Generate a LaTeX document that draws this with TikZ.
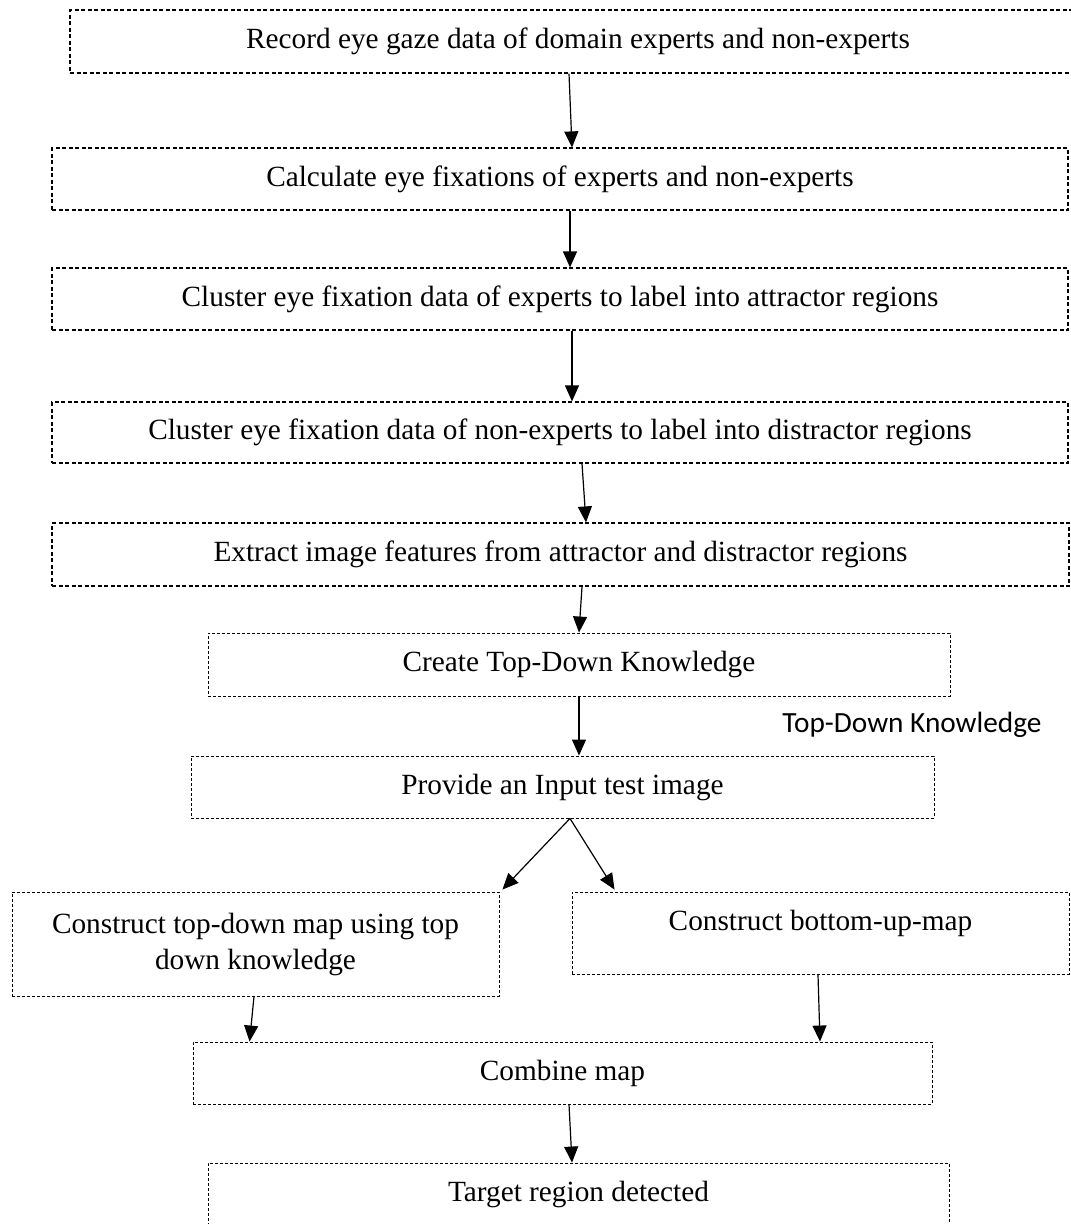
\documentclass[tikz,border=0pt]{standalone}
\usepackage{fontspec}
\setmainfont{Liberation Serif}
\newfontfamily\labelfont{Carlito}
\usetikzlibrary{arrows.meta}

\begin{document}
\begin{tikzpicture}[x=1pt, y=-1pt,
    stepbox/.style={draw, line width=1.2pt, dash pattern=on 4pt off 2.5pt, minimum width=1016pt, minimum height=62pt, inner sep=0pt, font=\fontsize{29.3}{36}\selectfont},
    smallbox/.style={stepbox, line width=0.9pt, dash pattern=on 3pt off 2pt},
    flow/.style={-{Triangle[length=16pt, width=14pt]}, line width=1.2pt}]
  \useasboundingbox (0,0) rectangle (1071,1224);
  \clip (0,0) rectangle (1071,1224);

  % boxes
  \node[stepbox, minimum height=63pt] (rec) at (578,41.5) {Record eye gaze data of domain experts and non-experts};
  \node[stepbox] (calc) at (560,179) {Calculate eye fixations of experts and non-experts};
  \node[stepbox] (clattr) at (560,299) {Cluster eye fixation data of experts to label into attractor regions};
  \node[stepbox, minimum height=61pt] (cldist) at (560,432.5) {Cluster eye fixation data of non-experts to label into distractor regions};
  \node[stepbox, minimum width=1017pt, minimum height=63pt] (extr) at (560.5,554.5) {Extract image features from attractor and distractor regions};
  \node[smallbox, minimum width=742pt, minimum height=63pt] (create) at (579,664.5) {Create Top-Down Knowledge};
  \node[smallbox, minimum width=743pt] (prov) at (562.5,787) {Provide an Input test image};
  \node[smallbox, minimum width=487pt, minimum height=104pt, align=center] (tdmap) at (255.5,944) {Construct top-down map using top\\down knowledge};
  \node[smallbox, minimum width=497pt, text height=38pt, text depth=44pt] (bumap) at (820.5,933) {Construct bottom-up-map};
  \node[smallbox, minimum width=739pt] (comb) at (562.5,1073) {Combine map};
  \node[smallbox, minimum width=741pt, minimum height=63pt] (targ) at (578.5,1194.5) {Target region detected};

  % label
  \node[font=\fontsize{29.3}{36}\selectfont\labelfont, inner sep=0pt] (tdk) at (912,725) {Top-Down Knowledge};

  % arrows
  \draw[flow] ([xshift=-9pt]rec.south) -- ([xshift=12pt]calc.north);
  \draw[flow] ([xshift=10pt]calc.south) -- ([xshift=10pt]clattr.north);
  \draw[flow] ([xshift=12pt]clattr.south) -- ([xshift=12pt]cldist.north);
  \draw[flow] ([xshift=22pt]cldist.south) -- ([xshift=25.5pt]extr.north);
  \draw[flow] ([xshift=21.5pt]extr.south) -- (create.north);
  \draw[flow] (create.south) -- ([xshift=16.5pt]prov.north);
  \draw[flow] ([xshift=7.5pt]prov.south) -- ([xshift=3pt,yshift=2pt]tdmap.north east);
  \draw[flow] ([xshift=7.5pt]prov.south) -- ([xshift=43pt,yshift=2pt]bumap.north west);
  \draw[flow] ([xshift=-1.5pt]tdmap.south) -- ([xshift=57pt]comb.north west);
  \draw[flow] ([xshift=-2.5pt]bumap.south) -- ([xshift=257.5pt]comb.north);
  \draw[flow] ([xshift=6.5pt]comb.south) -- ([xshift=-6.5pt]targ.north);
\end{tikzpicture}
\end{document}
